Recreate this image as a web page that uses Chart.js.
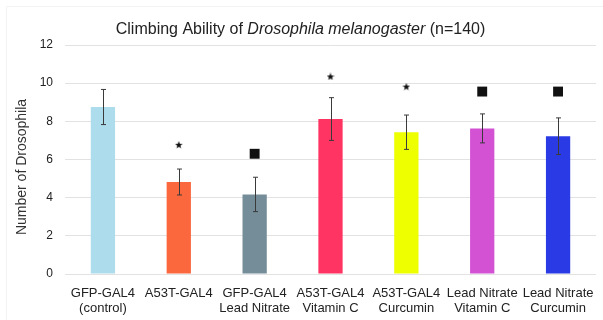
<!DOCTYPE html>
<html>
<head>
<meta charset="utf-8">
<script src="https://cdn.jsdelivr.net/npm/chart.js@4/dist/chart.umd.min.js"></script>
<style>
  body { margin: 0; background: #fff; }
  #wrap { width: 603px; height: 320px; }
</style>
</head>
<body>
<div id="wrap"><canvas id="chart" width="603" height="320"></canvas></div>
<script>
// data
const labels = [
  ['GFP-GAL4', '(control)'],
  ['A53T-GAL4', ''],
  ['GFP-GAL4', 'Lead Nitrate'],
  ['A53T-GAL4', 'Vitamin C'],
  ['A53T-GAL4', 'Curcumin'],
  ['Lead Nitrate', 'Vitamin C'],
  ['Lead Nitrate', 'Curcumin']
];
const means = [8.75, 4.82, 4.17, 8.12, 7.43, 7.63, 7.22];
const errors = [0.92, 0.68, 0.9, 1.12, 0.9, 0.76, 0.96];
const barColors = ['#ADDCEC', '#FB683D', '#748D99', '#FF3462', '#EEFF00', '#D352D4', '#2A3BE6'];
// significance markers above the bars
const markValues = [null, 6.77, 6.3, 10.35, 9.82, 9.56, 9.56];
const markTypes = [null, 'star', 'square', 'star', 'star', 'square', 'square'];
const yTicks = [0, 2, 4, 6, 8, 10, 12];

// small filled star used as point style
const starImg = document.createElement('canvas');
starImg.width = 8; starImg.height = 8;
(function () {
  const c = starImg.getContext('2d');
  c.fillStyle = '#111';
  c.beginPath();
  for (let i = 0; i < 10; i++) {
    const r = i % 2 === 0 ? 4 : 1.7;
    const a = -Math.PI / 2 + i * Math.PI / 5;
    c.lineTo(4 + r * Math.cos(a), 4.3 + r * Math.sin(a));
  }
  c.closePath();
  c.fill();
})();

const errorBars = {
  id: 'errorBars',
  afterDatasetsDraw(chart) {
    const ctx = chart.ctx;
    const y = chart.scales.y;
    const meta = chart.getDatasetMeta(0);
    ctx.save();
    ctx.strokeStyle = '#3a3a3a';
    ctx.lineWidth = 1;
    meta.data.forEach((bar, i) => {
      const x = Math.round(bar.x) + 0.5;
      const top = y.getPixelForValue(means[i] + errors[i]);
      const bot = y.getPixelForValue(means[i] - errors[i]);
      ctx.beginPath();
      ctx.moveTo(x, top); ctx.lineTo(x, bot);
      ctx.moveTo(x - 2.5, top); ctx.lineTo(x + 2.5, top);
      ctx.moveTo(x - 2.5, bot); ctx.lineTo(x + 2.5, bot);
      ctx.stroke();
    });
    ctx.restore();
  }
};

const titles = {
  id: 'titles',
  beforeDraw(chart) {
    const ctx = chart.ctx;
    ctx.save();
    // faint frame of the original image
    ctx.strokeStyle = '#f2f2f2';
    ctx.lineWidth = 1;
    ctx.beginPath();
    ctx.moveTo(6.5, 320); ctx.lineTo(6.5, 6.5); ctx.lineTo(603, 6.5);
    ctx.stroke();
    ctx.restore();
  },
  afterDraw(chart) {
    const ctx = chart.ctx;
    ctx.save();
    ctx.fillStyle = '#222';
    ctx.textBaseline = 'alphabetic';
    const parts = [
      ['Climbing Ability of ', 'normal'],
      ['Drosophila melanogaster', 'italic'],
      [' (n=140)', 'normal']
    ];
    const font = s => s + ' 16px "Liberation Sans", Arial, sans-serif';
    let total = 0;
    parts.forEach(p => { ctx.font = font(p[1]); total += ctx.measureText(p[0]).width; });
    let x = 300.5 - total / 2;
    parts.forEach(p => {
      ctx.font = font(p[1]);
      ctx.fillText(p[0], x, 34);
      x += ctx.measureText(p[0]).width;
    });
    // y axis title
    ctx.translate(22, 167);
    ctx.rotate(-Math.PI / 2);
    ctx.textAlign = 'center';
    ctx.textBaseline = 'middle';
    ctx.font = '14px "Liberation Sans", Arial, sans-serif';
    ctx.fillStyle = '#333';
    ctx.fillText('Number of Drosophila', 0, 0);
    ctx.restore();
  }
};

new Chart(document.getElementById('chart'), {
  data: {
    labels: labels,
    datasets: [{
      type: 'bar',
      data: means,
      backgroundColor: barColors,
      borderWidth: 0,
      barPercentage: 0.32,
      categoryPercentage: 1
    }, {
      type: 'line',
      data: markValues,
      showLine: false,
      pointStyle: ctx => markTypes[ctx.dataIndex] === 'star' ? starImg : 'rect',
      pointRadius: ctx => markTypes[ctx.dataIndex] === 'star' ? 4 : 7,
      pointBackgroundColor: '#111',
      pointBorderWidth: 0
    }]
  },
  options: {
    responsive: false,
    animation: false,
    layout: { padding: { top: 45, right: 0, left: 0, bottom: 0 } },
    plugins: {
      legend: { display: false },
      title: { display: false },
      tooltip: { enabled: false }
    },
    scales: {
      x: {
        grid: { display: false },
        border: { display: false },
        ticks: {
          color: '#222',
          padding: 4,
          maxRotation: 0,
          autoSkip: false,
          font: { family: '"Liberation Sans", Arial, sans-serif', size: 13, lineHeight: 1.15 }
        },
        afterFit: s => { s.height = 46; }
      },
      y: {
        min: 0,
        max: 12,
        afterBuildTicks: s => { s.ticks = yTicks.map(v => ({ value: v })); },
        grid: { color: '#e2e2e2', drawTicks: false },
        border: { display: false },
        ticks: {
          color: '#222',
          padding: 12,
          font: { family: '"Liberation Sans", Arial, sans-serif', size: 12 }
        },
        afterFit: s => { s.width = 65; }
      }
    }
  },
  plugins: [errorBars, titles]
});
</script>
</body>
</html>
